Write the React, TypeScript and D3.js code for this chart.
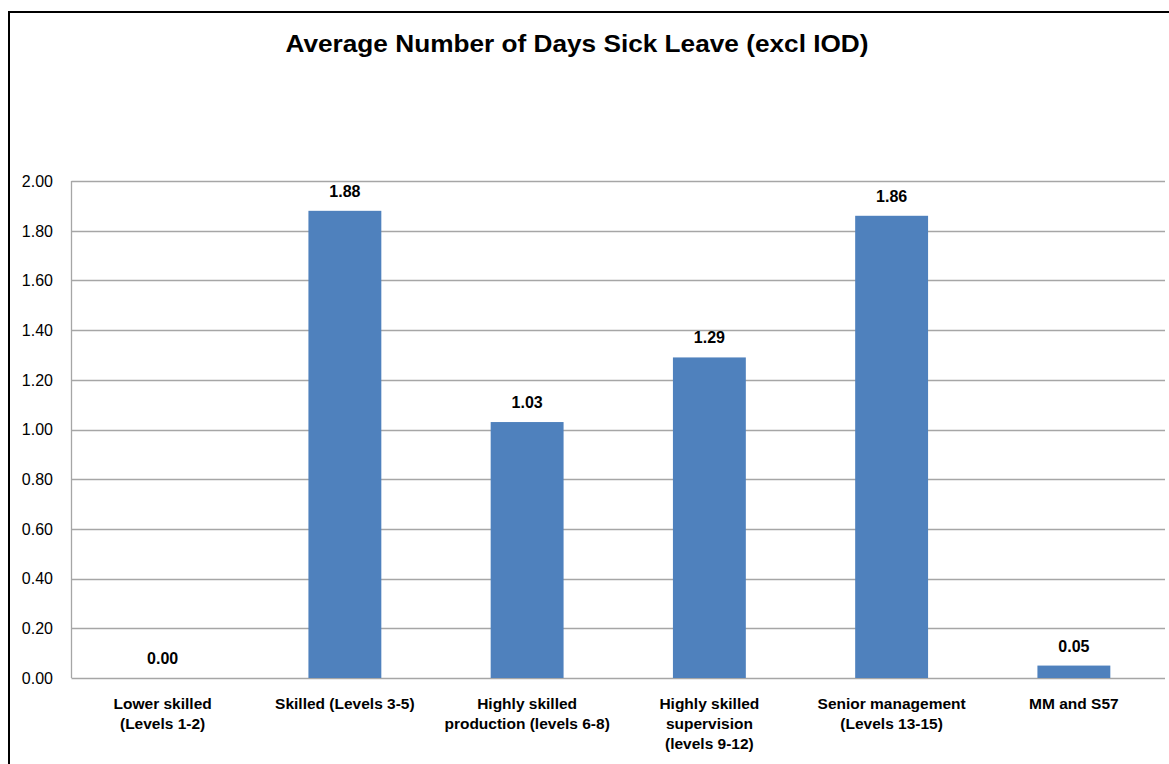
import React from "react";
import * as d3 from "d3";

const categories: string[][] = [
  ["Lower skilled", "(Levels 1-2)"],
  ["Skilled (Levels 3-5)"],
  ["Highly skilled", "production (levels 6-8)"],
  ["Highly skilled", "supervision", "(levels 9-12)"],
  ["Senior management", "(Levels 13-15)"],
  ["MM and S57"],
];
const values: number[] = [0.0, 1.88, 1.03, 1.29, 1.86, 0.05];
const yTicks: number[] = [0, 0.2, 0.4, 0.6, 0.8, 1.0, 1.2, 1.4, 1.6, 1.8, 2.0];
const title = "Average Number of Days Sick Leave (excl IOD)";

const W = 1169;
const H = 764;
const plot = { left: 71.5, right: 1165, top: 181, bottom: 678 };
const font = "'Liberation Sans', Arial, sans-serif";
const barColor = "#4F81BD";
const gridColor = "#A6A6A6";

export default function App() {
  const x = d3
    .scaleBand<number>()
    .domain(d3.range(categories.length))
    .range([plot.left, plot.right])
    .paddingInner(0.6)
    .paddingOuter(0.3);
  const y = d3.scaleLinear().domain([0, 2]).range([plot.bottom, plot.top]);
  const band = (plot.right - plot.left) / categories.length;

  return (
    <svg
      width={W}
      height={H}
      style={{ position: "absolute", left: 0, top: 0, background: "#fff" }}
    >
      {/* chart frame */}
      <path d={`M9,${H + 2} V12 H${W + 2}`} fill="none" stroke="#000" strokeWidth={2} />

      <text
        x={577}
        y={52}
        textAnchor="middle"
        fontFamily={font}
        fontWeight="bold"
        fontSize={24}
        textLength={583}
        lengthAdjust="spacingAndGlyphs"
        fill="#000"
      >
        {title}
      </text>

      {/* gridlines */}
      {yTicks.map((t) => (
        <line
          key={t}
          x1={plot.left}
          x2={plot.right}
          y1={Math.round(y(t)) + 0.5}
          y2={Math.round(y(t)) + 0.5}
          stroke={gridColor}
          strokeWidth={1.3}
        />
      ))}
      <line
        x1={plot.left}
        x2={plot.left}
        y1={plot.top}
        y2={plot.bottom}
        stroke={gridColor}
        strokeWidth={1.3}
      />

      {/* y tick labels */}
      {yTicks.map((t) => (
        <text
          key={"l" + t}
          x={53}
          y={y(t) + 5.8}
          textAnchor="end"
          fontFamily={font}
          fontSize={16}
          fill="#000"
        >
          {t.toFixed(2)}
        </text>
      ))}

      {/* bars */}
      {values.map((v, i) => (
        <rect
          key={"b" + i}
          x={x(i)!}
          y={y(v)}
          width={x.bandwidth()}
          height={plot.bottom - y(v)}
          fill={barColor}
        />
      ))}

      {/* value labels */}
      {values.map((v, i) => (
        <text
          key={"v" + i}
          x={x(i)! + x.bandwidth() / 2}
          y={y(v) - 14}
          textAnchor="middle"
          fontFamily={font}
          fontWeight="bold"
          fontSize={16}
          fill="#000"
        >
          {v.toFixed(2)}
        </text>
      ))}

      {/* category labels */}
      {categories.map((lines, i) => (
        <text
          key={"c" + i}
          x={plot.left + band * (i + 0.5)}
          y={708.5}
          textAnchor="middle"
          fontFamily={font}
          fontWeight="bold"
          fontSize={15.5}
          fill="#000"
        >
          {lines.map((ln, j) => (
            <tspan key={j} x={plot.left + band * (i + 0.5)} dy={j === 0 ? 0 : 20}>
              {ln}
            </tspan>
          ))}
        </text>
      ))}
    </svg>
  );
}
